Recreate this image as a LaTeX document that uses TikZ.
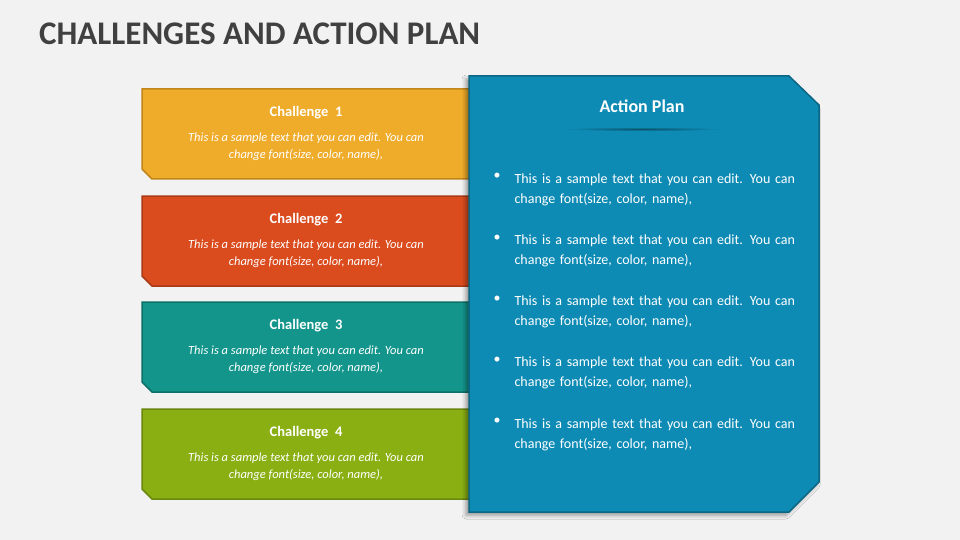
\documentclass[tikz,border=0pt]{standalone}
\usepackage{fontspec}
\setmainfont{Carlito}
\usetikzlibrary{shadows,shadows.blur}
\definecolor{bg}{HTML}{F2F2F2}
\definecolor{c1}{HTML}{EFAB2A}\definecolor{d1}{HTML}{C2851A}
\definecolor{c2}{HTML}{DA4B1E}\definecolor{d2}{HTML}{A93A16}
\definecolor{c3}{HTML}{13958B}\definecolor{d3}{HTML}{0E7169}
\definecolor{c4}{HTML}{8AAF13}\definecolor{d4}{HTML}{6A870E}
\definecolor{pb}{HTML}{0E8BB5}\definecolor{pd}{HTML}{0B6784}
\definecolor{ttl}{HTML}{404040}
\tikzset{
 chtitle/.style={font=\fontsize{14.5}{16}\selectfont\bfseries,text=white},
 chtext/.style={font=\fontsize{12.5}{17}\selectfont\itshape,text=white,align=center},
 bul/.style={font=\fontsize{14}{20}\selectfont,text=white,align=left,text width=285pt,anchor=north west},
 dot/.style={font=\fontsize{14}{20}\selectfont,text=white,anchor=north}
}
\begin{document}
\begin{tikzpicture}[x=1pt,y=-1pt]
\fill[bg] (0,0) rectangle (960,540);
\useasboundingbox (0,0) rectangle (960,540);
\node[anchor=west,font=\fontsize{33}{36}\selectfont\bfseries,text=ttl,inner sep=0] (title) at (39,34) {CHALLENGES AND ACTION PLAN};
\foreach \i/\y in {1/89,2/196,3/302,4/409}{
 \draw[line width=1.5pt,draw=d\i,fill=c\i] (142,\y) -- (472,\y) -- (472,\y+90) -- (152,\y+90) -- (142,\y+80) -- cycle;
 \node[chtitle] (t\i) at (306,\y+24) {Challenge\ \ \i};
 \node[chtext] (s\i) at (306,\y+58) {This is a sample text that you can edit. You can\\change font(size, color, name),};
}
\draw[line width=1.5pt,draw=pd,fill=pb,blur shadow={shadow xshift=-3pt,shadow yshift=-3pt,shadow blur radius=4pt,shadow opacity=40}]
 (469,76) -- (789,76) -- (819,105) -- (819,482) -- (789,512) -- (469,512) -- cycle;
\node[font=\fontsize{18}{20}\selectfont\bfseries,text=white] (ap) at (642,106) {Action Plan};
\shade[inner color=pd!80!black,outer color=pb] (643,129) ellipse (80 and 2);
\foreach \k/\y in {1,2,3,4,5}{
 \pgfmathsetmacro\yy{170+61.2*(\k-1)}
 \node[dot] (d\k) at (497,\yy) {•};
 \node[bul] (b\k) at (511,\yy) {This is a sample text that you can edit. You can change font(size, color, name),};
}
\end{tikzpicture}
\end{document}
